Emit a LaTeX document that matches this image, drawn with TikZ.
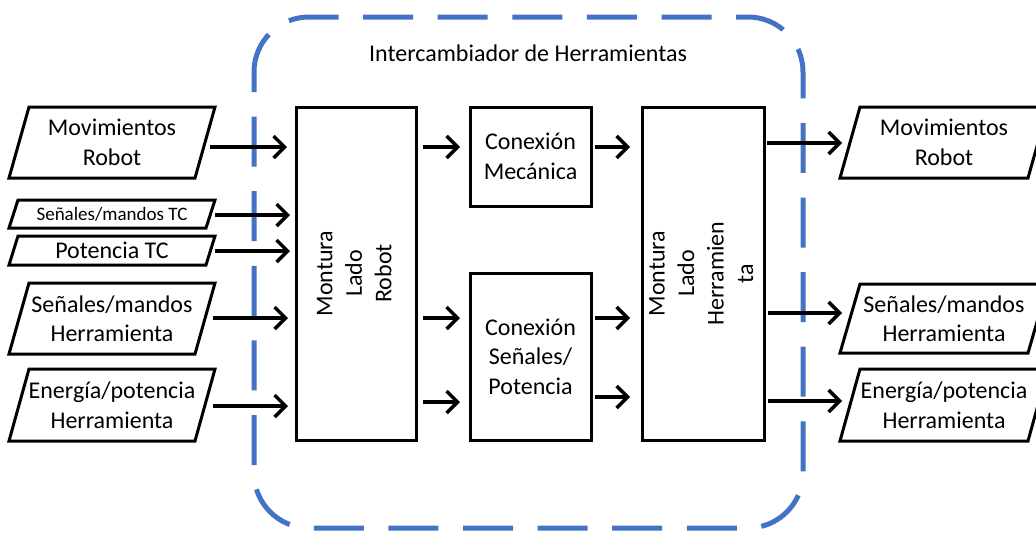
\documentclass[tikz,border=0pt]{standalone}
\usepackage{fontspec}
\setmainfont{Carlito}
\usetikzlibrary{arrows.meta,calc}
\definecolor{dashblue}{HTML}{4472C4}
\newcommand\paraoutline[2]{\draw[line width=3pt,line join=miter] ([xshift=-#2]#1.south west) -- ([xshift=#2]#1.north west) -- ([xshift=#2]#1.north east) -- ([xshift=-#2]#1.south east) -- cycle;}
\begin{document}
\begin{tikzpicture}[x=1pt,y=-1pt,
  box/.style={draw=black,line width=3pt,inner sep=0pt,outer sep=0pt,align=center,font=\fontsize{24}{29.5}\selectfont},
  lbl/.style={inner sep=0pt,outer sep=0pt,align=center,font=\fontsize{24}{29.5}\selectfont},
  small/.style={inner sep=0pt,outer sep=0pt,align=center,font=\fontsize{19}{23}\selectfont},
  arr/.style={line width=3.4pt,-{Straight Barb[length=11pt,width=22pt]}},
  frame/.style={draw=dashblue,line width=5pt,dash pattern=on 50pt off 24.6pt,dash phase=30pt,rounded corners=55pt}
]
\clip (0,0) rectangle (1036,536);
\fill[white] (0,0) rectangle (1036,536);

% dashed frame and title
\draw[frame] (254,17) rectangle (803,528);
\node[lbl] (title) at (528,53) {Intercambiador de Herramientas};

% left inputs
\node[lbl,minimum width=186pt,minimum height=71pt] (lin1) at (112,142.5) {Movimientos\\Robot};
\node[small,minimum width=197pt,minimum height=28pt] (lin2) at (112,214) {Señales/mandos TC};
\node[lbl,minimum width=197pt,minimum height=29pt] (lin3) at (112,250.5) {Potencia TC};
\node[lbl,minimum width=186pt,minimum height=71pt] (lin4) at (112,318.5) {Señales/mandos\\Herramienta};
\node[lbl,minimum width=186pt,minimum height=72pt] (lin5) at (112,405) {Energía/potencia\\Herramienta};
\paraoutline{lin1}{10pt}
\paraoutline{lin2}{4.5pt}
\paraoutline{lin3}{4.5pt}
\paraoutline{lin4}{10pt}
\paraoutline{lin5}{10pt}

% right outputs
\node[lbl,minimum width=188pt,minimum height=71pt] (rout1) at (944,142.5) {Movimientos\\Robot};
\node[lbl,minimum width=188pt,minimum height=69pt] (rout2) at (944,318.5) {Señales/mandos\\Herramienta};
\node[lbl,minimum width=188pt,minimum height=72pt] (rout3) at (944,405) {Energía/potencia\\Herramienta};
\paraoutline{rout1}{10pt}
\paraoutline{rout2}{10pt}
\paraoutline{rout3}{10pt}

% central boxes
\node[box,minimum width=120pt,minimum height=333pt] (mlr) at (356,273.5)
  {\rotatebox{90}{\begin{tabular}{@{}c@{}}Montura\\Lado\\Robot\end{tabular}}};
\node[box,minimum width=121pt,minimum height=99pt] (cm) at (530.5,156.5) {Conexión\\Mecánica};
\node[box,minimum width=121pt,minimum height=167pt] (cs) at (530.5,356.5) {Conexión\\Señales/\\Potencia};
\node[box,minimum width=122pt,minimum height=333pt] (mlh) at (703,273.5)
  {\rotatebox{90}{\begin{tabular}{@{}c@{}}Montura\\Lado\\Herramien\\ta\end{tabular}}};

% arrow levels
\coordinate (y143) at (0,143);
\coordinate (y147) at (0,147);
\coordinate (y215) at (0,215);
\coordinate (y251) at (0,251);
\coordinate (y313) at (0,313);
\coordinate (y318) at (0,318);
\coordinate (y397) at (0,397);
\coordinate (y401) at (0,401);
\coordinate (y402) at (0,402);
\coordinate (y406) at (0,406);

% inputs -> Montura Lado Robot
\draw[arr,shorten <=5pt,shorten >=9pt] (lin1.east |- y147) -- (mlr.west |- y147);
\draw[arr,shorten <=4.5pt,shorten >=6pt] (lin2.east |- y215) -- (mlr.west |- y215);
\draw[arr,shorten <=4.5pt,shorten >=6pt] (lin3.east |- y251) -- (mlr.west |- y251);
\draw[arr,shorten <=8pt,shorten >=8pt] (lin4.east |- y318) -- (mlr.west |- y318);
\draw[arr,shorten <=8pt,shorten >=8pt] (lin5.east |- y406) -- (mlr.west |- y406);

% Montura Lado Robot -> connections
\draw[arr,shorten <=7pt,shorten >=10pt] (mlr.east |- y147) -- (cm.west |- y147);
\draw[arr,shorten <=7pt,shorten >=10pt] (mlr.east |- y318) -- (cs.west |- y318);
\draw[arr,shorten <=7pt,shorten >=10pt] (mlr.east |- y402) -- (cs.west |- y402);

% connections -> Montura Lado Herramienta
\draw[arr,shorten <=4pt,shorten >=12pt] (cm.east |- y147) -- (mlh.west |- y147);
\draw[arr,shorten <=4pt,shorten >=12pt] (cs.east |- y318) -- (mlh.west |- y318);
\draw[arr,shorten <=4pt,shorten >=12pt] (cs.east |- y397) -- (mlh.west |- y397);

% Montura Lado Herramienta -> outputs
\draw[arr,shorten <=3pt,shorten >=8pt] (mlh.east |- y143) -- (rout1.west |- y143);
\draw[arr,shorten <=4pt,shorten >=8pt] (mlh.east |- y313) -- (rout2.west |- y313);
\draw[arr,shorten <=4pt,shorten >=8pt] (mlh.east |- y401) -- (rout3.west |- y401);
\end{tikzpicture}
\end{document}
